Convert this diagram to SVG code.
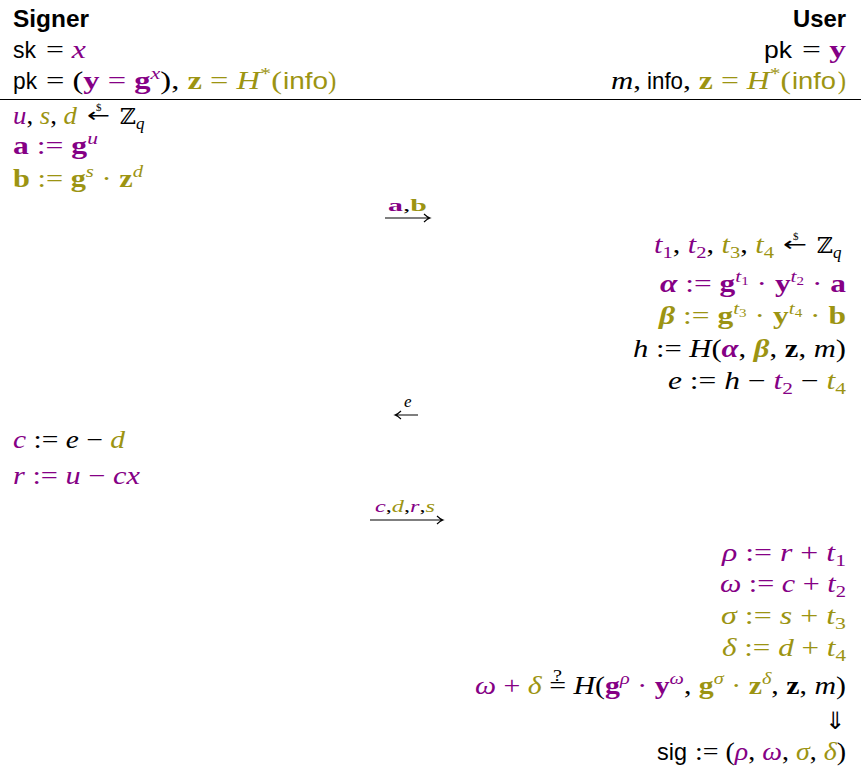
<svg xmlns="http://www.w3.org/2000/svg" width="861" height="768" viewBox="0 0 861 768">
<style>
text{font-family:"Liberation Serif","DejaVu Serif",serif;font-size:25px;fill:#000;white-space:pre}
.s{font-family:"Liberation Sans","DejaVu Sans",sans-serif;font-size:24px}
.sb{font-family:"Liberation Sans","DejaVu Sans",sans-serif;font-weight:bold;font-size:24px}
.i{font-style:italic}
.b{font-weight:bold}
.p{fill:#850085}
.o{fill:#9c9412}
.sm{font-size:17px}
.xs{font-size:12px}
.zz{font-family:"DejaVu Serif",serif;font-size:22px}
.ar{font-family:"DejaVu Sans",sans-serif;font-size:20px}
.dl{font-size:11px}
.lbl{font-size:17px}
.conn path{fill:none;stroke:#000;stroke-width:1.1}
</style>
<g id="header-signer">
<text x="13" y="27" class="sb" textLength="76" lengthAdjust="spacingAndGlyphs">Signer</text>
<text x="13" y="58" class="s" textLength="23" lengthAdjust="spacingAndGlyphs">sk</text>
<text x="46" y="58" textLength="40" lengthAdjust="spacingAndGlyphs">= <tspan class="i p">x</tspan></text>
<text x="13" y="89" class="s" textLength="24" lengthAdjust="spacingAndGlyphs">pk</text>
<text x="46" y="89" textLength="236" lengthAdjust="spacingAndGlyphs">= (<tspan class="b p">y</tspan><tspan class="p"> = </tspan><tspan class="b p">g</tspan><tspan class="i p sm" dy="-10">x</tspan><tspan dy="10">), </tspan><tspan class="b o">z</tspan><tspan class="o"> = </tspan><tspan class="i o">H</tspan><tspan class="o sm" dy="-10">*</tspan><tspan class="o" dy="10">(</tspan></text>
<text x="283" y="89" class="s o" textLength="45" lengthAdjust="spacingAndGlyphs">info</text>
<text x="328" y="89" class="o">)</text>
</g>
<g id="header-user">
<text x="846" y="27" class="sb" text-anchor="end" textLength="53" lengthAdjust="spacingAndGlyphs">User</text>
<text x="764" y="58" class="s" textLength="28" lengthAdjust="spacingAndGlyphs">pk</text>
<text x="846" y="58" text-anchor="end" textLength="44" lengthAdjust="spacingAndGlyphs">= <tspan class="b p">y</tspan></text>
<text x="611" y="89" textLength="30" lengthAdjust="spacingAndGlyphs"><tspan class="i">m</tspan>,</text>
<text x="647" y="89" class="s" textLength="36" lengthAdjust="spacingAndGlyphs">info</text>
<text x="683" y="89" textLength="108" lengthAdjust="spacingAndGlyphs">, <tspan class="b o">z</tspan><tspan class="o"> = </tspan><tspan class="i o">H</tspan><tspan class="o sm" dy="-10">*</tspan><tspan class="o" dy="10">(</tspan></text>
<text x="792" y="89" class="s o" textLength="44" lengthAdjust="spacingAndGlyphs">info</text>
<text x="846" y="89" class="o" text-anchor="end">)</text>
</g>
<g id="rule"><path d="M0 99.5H861" stroke="#000" stroke-width="1.2"/></g>
<g id="signer-step1">
<text x="13" y="124" textLength="64" lengthAdjust="spacingAndGlyphs"><tspan class="i p">u</tspan>, <tspan class="i o">s</tspan>, <tspan class="i o">d</tspan></text>
<text x="87" y="122" class="ar" textLength="23" lengthAdjust="spacingAndGlyphs">←</text>
<text x="96" y="111" class="dl">$</text>
<text x="120" y="124"><tspan class="zz">ℤ</tspan><tspan class="i sm" dy="5">q</tspan></text>
<text x="13" y="154" class="p" textLength="85" lengthAdjust="spacingAndGlyphs"><tspan class="b">a</tspan> := <tspan class="b">g</tspan><tspan class="i sm" dy="-10">u</tspan></text>
<text x="13" y="187" class="o" textLength="130" lengthAdjust="spacingAndGlyphs"><tspan class="b">b</tspan> := <tspan class="b">g</tspan><tspan class="i sm" dy="-10">s</tspan><tspan dy="10"> · </tspan><tspan class="b">z</tspan><tspan class="i sm" dy="-10">d</tspan></text>
</g>
<g id="user-step1">
<text x="654" y="253" textLength="120" lengthAdjust="spacingAndGlyphs"><tspan class="i p">t</tspan><tspan class="p sm" dy="5">1</tspan><tspan dy="-5">, </tspan><tspan class="i p">t</tspan><tspan class="p sm" dy="5">2</tspan><tspan dy="-5">, </tspan><tspan class="i o">t</tspan><tspan class="o sm" dy="5">3</tspan><tspan dy="-5">, </tspan><tspan class="i o">t</tspan><tspan class="o sm" dy="5">4</tspan></text>
<text x="783" y="251" class="ar" textLength="24" lengthAdjust="spacingAndGlyphs">←</text>
<text x="793" y="240" class="dl">$</text>
<text x="817" y="253"><tspan class="zz">ℤ</tspan><tspan class="i sm" dy="5">q</tspan></text>
<text x="846" y="292" text-anchor="end" class="p" textLength="186" lengthAdjust="spacingAndGlyphs"><tspan class="b i">α</tspan> := <tspan class="b">g</tspan><tspan class="i sm" dy="-10">t</tspan><tspan class="xs" dy="3">1</tspan><tspan dy="7"> · </tspan><tspan class="b">y</tspan><tspan class="i sm" dy="-10">t</tspan><tspan class="xs" dy="3">2</tspan><tspan dy="7"> · </tspan><tspan class="b">a</tspan></text>
<text x="846" y="324" text-anchor="end" class="o" textLength="187" lengthAdjust="spacingAndGlyphs"><tspan class="b i">β</tspan> := <tspan class="b">g</tspan><tspan class="i sm" dy="-10">t</tspan><tspan class="xs" dy="3">3</tspan><tspan dy="7"> · </tspan><tspan class="b">y</tspan><tspan class="i sm" dy="-10">t</tspan><tspan class="xs" dy="3">4</tspan><tspan dy="7"> · </tspan><tspan class="b">b</tspan></text>
<text x="846" y="357" text-anchor="end" textLength="213" lengthAdjust="spacingAndGlyphs"><tspan class="i">h</tspan> := <tspan class="i">H</tspan>(<tspan class="b i p">α</tspan>, <tspan class="b i o">β</tspan>, <tspan class="b">z</tspan>, <tspan class="i">m</tspan>)</text>
<text x="846" y="389" text-anchor="end" textLength="178" lengthAdjust="spacingAndGlyphs"><tspan class="i">e</tspan> := <tspan class="i">h</tspan> − <tspan class="i p">t</tspan><tspan class="p sm" dy="5">2</tspan><tspan dy="-5"> − </tspan><tspan class="i o">t</tspan><tspan class="o sm" dy="5">4</tspan></text>
</g>
<g id="signer-step2">
<text x="13" y="448" textLength="112" lengthAdjust="spacingAndGlyphs"><tspan class="i p">c</tspan> := <tspan class="i">e</tspan> − <tspan class="i o">d</tspan></text>
<text x="13" y="484" class="p" textLength="127" lengthAdjust="spacingAndGlyphs"><tspan class="i">r</tspan> := <tspan class="i">u</tspan> − <tspan class="i">cx</tspan></text>
</g>
<g id="user-step2">
<text x="846" y="561" text-anchor="end" class="p" textLength="124" lengthAdjust="spacingAndGlyphs"><tspan class="i">ρ</tspan> := <tspan class="i">r</tspan> + <tspan class="i">t</tspan><tspan class="sm" dy="5">1</tspan></text>
<text x="846" y="592" text-anchor="end" class="p" textLength="126" lengthAdjust="spacingAndGlyphs"><tspan class="i">ω</tspan> := <tspan class="i">c</tspan> + <tspan class="i">t</tspan><tspan class="sm" dy="5">2</tspan></text>
<text x="846" y="624" text-anchor="end" class="o" textLength="125" lengthAdjust="spacingAndGlyphs"><tspan class="i">σ</tspan> := <tspan class="i">s</tspan> + <tspan class="i">t</tspan><tspan class="sm" dy="5">3</tspan></text>
<text x="846" y="656" text-anchor="end" class="o" textLength="124" lengthAdjust="spacingAndGlyphs"><tspan class="i">δ</tspan> := <tspan class="i">d</tspan> + <tspan class="i">t</tspan><tspan class="sm" dy="5">4</tspan></text>
<text x="846" y="694" text-anchor="end" textLength="371" lengthAdjust="spacingAndGlyphs"><tspan class="i p">ω</tspan><tspan class="p"> + </tspan><tspan class="i o">δ</tspan> =<tspan class="sm" dx="-11" dy="-13">?</tspan><tspan dx="3.5" dy="13"> </tspan><tspan class="i">H</tspan>(<tspan class="b p">g</tspan><tspan class="i p sm" dy="-10">ρ</tspan><tspan class="p" dy="10"> · </tspan><tspan class="b p">y</tspan><tspan class="i p sm" dy="-10">ω</tspan><tspan dy="10">, </tspan><tspan class="b o">g</tspan><tspan class="i o sm" dy="-10">σ</tspan><tspan class="o" dy="10"> · </tspan><tspan class="b o">z</tspan><tspan class="i o sm" dy="-10">δ</tspan><tspan dy="10">, </tspan><tspan class="b">z</tspan>, <tspan class="i">m</tspan>)</text>
<text x="845" y="729" text-anchor="end" class="ar" style="font-size:24px">⇓</text>
<text x="657" y="760" class="s" textLength="30" lengthAdjust="spacingAndGlyphs">sig</text>
<text x="846" y="760" text-anchor="end" textLength="151" lengthAdjust="spacingAndGlyphs">:= (<tspan class="i p">ρ</tspan>, <tspan class="i p">ω</tspan>, <tspan class="i o">σ</tspan>, <tspan class="i o">δ</tspan>)</text>
</g>
<g id="connectors" class="conn">
<path d="M385 218H430M424 214Q427 217 430 218Q427 219 424 222"/>
<path d="M418 415H395M401 411Q398 414 395 415Q398 416 401 419"/>
<path d="M370 520H443M437 516Q440 519 443 520Q440 521 437 524"/>
</g>
<g id="labels">
<text x="388" y="211" class="lbl" textLength="39" lengthAdjust="spacingAndGlyphs"><tspan class="b p">a</tspan>,<tspan class="b o">b</tspan></text>
<text x="404" y="407" class="lbl i">e</text>
<text x="375" y="512" class="lbl" textLength="60" lengthAdjust="spacingAndGlyphs"><tspan class="i p">c</tspan>,<tspan class="i o">d</tspan>,<tspan class="i p">r</tspan>,<tspan class="i o">s</tspan></text>
</g>
</svg>
